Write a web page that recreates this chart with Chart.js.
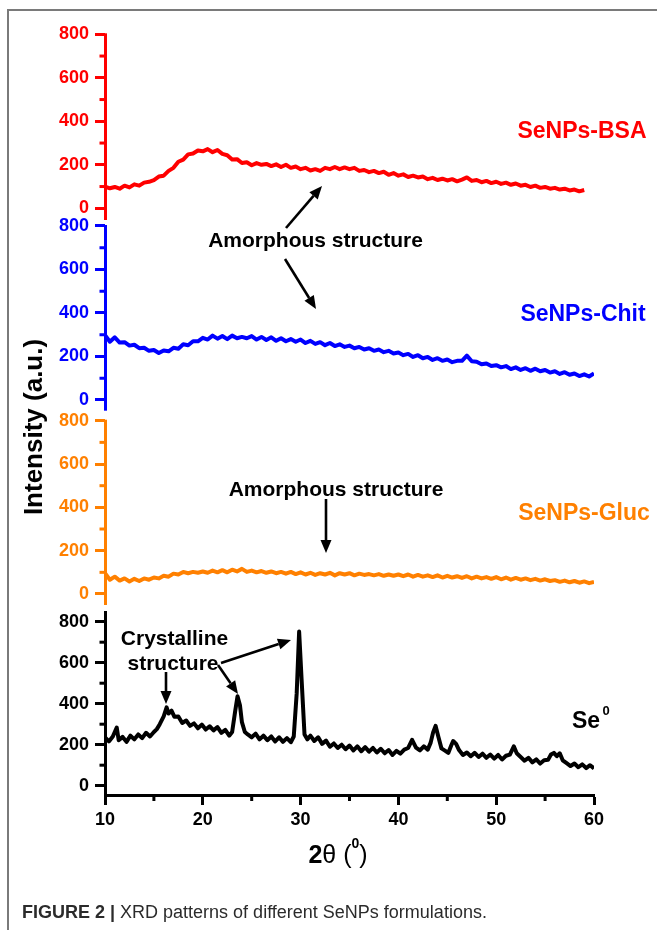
<!DOCTYPE html>
<html><head><meta charset="utf-8">
<script src="https://cdn.jsdelivr.net/npm/chart.js@4.4.1/dist/chart.umd.min.js"></script>
<style>
html,body{margin:0;padding:0;background:#fff;}
body{width:657px;height:930px;overflow:hidden;position:relative;font-family:"Liberation Sans",Arial,sans-serif;}
#frame{position:absolute;left:7px;top:9px;width:720px;height:960px;border-top:2px solid #7a7a7a;border-left:2px solid #7a7a7a;}
#c{position:absolute;left:0;top:0;}
#caption{position:absolute;left:22px;top:902px;font-size:18px;line-height:20px;color:#2b2b2b;white-space:nowrap;}
</style></head>
<body>
<div id="frame"></div>
<canvas id="c" width="657" height="930"></canvas>
<div id="caption"><b>FIGURE 2 |</b> XRD patterns of different SeNPs formulations.</div>
<script>
// ---------- data ----------
const thetaGrid = [10,10.5,11,11.5,12,12.5,13,13.5,14,14.5,15,15.5,16,16.5,17,17.5,18,18.5,19,19.5,20,20.5,21,21.5,22,22.5,23,23.5,24,24.5,25,25.5,26,26.5,27,27.5,28,28.5,29,29.5,30,30.5,31,31.5,32,32.5,33,33.5,34,34.5,35,35.5,36,36.5,37,37.5,38,38.5,39,39.5,40,40.5,41,41.5,42,42.5,43,43.5,44,44.5,45,45.5,46,46.5,47,47.5,48,48.5,49,49.5,50,50.5,51,51.5,52,52.5,53,53.5,54,54.5,55,55.5,56,56.5,57,57.5,58,58.5,59,59.5,60];

const bsaIntensity = [100,92,98,90,104,96,110,104,118,122,
  130,146,150,172,186,214,224,248,252,266,
  262,272,258,268,250,244,224,226,208,212,
  198,208,200,204,194,202,190,200,186,192,
  180,186,174,180,172,186,180,190,180,188,
  180,186,172,176,166,172,162,168,154,162,
  150,156,144,150,142,146,134,140,130,136,
  128,134,124,132,142,126,130,120,126,116,
  122,112,118,108,114,104,108,98,104,94,
  98,90,94,86,90,82,86,78,84];

const chitIntensity = [298,268,288,264,266,250,254,238,240,226,
  230,216,228,224,240,236,256,252,270,270,
  286,278,296,282,294,280,296,284,290,284,
  294,278,290,276,288,272,284,270,280,268,
  278,262,272,258,266,252,262,248,256,244,
  250,238,244,232,238,226,232,220,226,214,
  218,206,212,198,206,192,198,184,192,180,
  186,174,180,180,204,178,176,164,168,156,
  160,150,156,142,150,138,146,134,144,132,
  138,126,132,120,128,116,122,110,118,108,122];

const glucIntensity = [96,66,80,62,72,58,70,60,72,66,
  76,72,84,80,94,90,102,96,102,98,
  104,98,108,100,110,100,112,104,116,102,
  108,100,106,98,104,96,102,94,102,92,
  100,90,98,88,96,90,98,86,96,90,
  96,86,94,88,92,86,92,84,90,84,
  90,82,90,80,88,80,86,78,86,76,
  84,76,82,74,82,72,80,72,78,70,
  78,68,76,66,74,66,72,64,70,62,
  68,60,64,56,62,54,60,52,58,50,56];

const se0Theta = [10,10.4,10.8,11.2,11.4,11.8,12.2,12.6,13,13.4,
  13.8,14.2,14.6,15,15.3,15.6,16,16.3,16.5,16.8,
  17.1,17.5,17.9,18.3,18.7,19.1,19.5,19.9,20.3,20.7,
  21.1,21.5,21.9,22.3,22.7,23,23.3,23.55,23.8,24,
  24.3,24.6,25,25.4,25.8,26.2,26.6,27,27.4,27.8,
  28.2,28.6,29,29.3,29.6,29.85,30.1,30.4,30.7,31,
  31.4,31.8,32.2,32.6,33,33.4,33.8,34.2,34.6,35,
  35.4,35.8,36.2,36.6,37,37.4,37.8,38.2,38.6,39,
  39.4,39.8,40.2,40.6,41,41.4,41.8,42.2,42.6,43,
  43.3,43.55,43.8,44.1,44.4,44.8,45.1,45.4,45.6,45.9,
  46.2,46.6,47,47.4,47.8,48.2,48.6,49,49.4,49.8,
  50.2,50.6,51,51.4,51.8,52.1,52.5,52.9,53.3,53.7,
  54.1,54.5,54.9,55.3,55.6,55.9,56.2,56.5,56.8,57.2,
  57.6,58,58.4,58.8,59.2,59.6,60];
const se0Intensity = [236,216,240,284,222,238,214,244,226,250,
  232,258,240,262,276,300,338,382,352,366,
  336,338,306,318,292,304,280,298,274,290,
  270,286,258,272,244,262,360,436,392,310,
  262,250,236,254,226,244,222,240,216,236,
  214,232,212,240,450,752,520,250,226,244,
  218,236,204,220,190,206,184,200,178,196,
  172,192,168,188,166,184,162,180,158,174,
  150,170,156,176,184,224,186,172,192,176,
  210,260,292,236,182,170,160,196,218,204,
  174,150,162,144,160,140,156,136,152,132,
  150,128,146,152,192,158,140,122,136,114,
  128,108,124,126,152,160,144,158,124,110,
  96,108,90,104,86,100,84];

const seriesNames = ['SeNPs-BSA','SeNPs-Chit','SeNPs-Gluc','Se0'];
const yMajorTicks = [0,200,400,600,800];
const yMinorTicks = [100,300,500,700];
const xMajorTicks = [10,20,30,40,50,60];
const xMinorTicks = [15,25,35,45,55];

// ---------- styling ----------
const FONT = '"Liberation Sans", Arial, sans-serif';
Chart.defaults.font.family = FONT;
const COLORS = {yRed:'#ff0000', yBlue:'#0000ff', yOrange:'#ff8000', yBlack:'#000000'};
const GAPS = {yRed:6, yBlue:10, yOrange:7, yBlack:0};

function pts(xs, ys){ return ys.map((v,i)=>({x:xs[i], y:v})); }

function yAxis(id, min, max, weightOrder, stackWeight){
  return {
    type:'linear', position:'left', stack:'panels', stackWeight:stackWeight, weight:weightOrder,
    min:min, max:max,
    afterBuildTicks: s => { s.ticks = yMajorTicks.map(v=>({value:v})); },
    afterFit: s => { s.width = 50; },
    border:{display:false},
    grid:{drawOnChartArea:false, drawTicks:true, tickLength:10, tickWidth:3, tickColor:COLORS[id]},
    ticks:{autoSkip:false, padding:6, color:COLORS[id], font:{size:18, weight:'bold'}}
  };
}

function arrow(ctx,x1,y1,x2,y2){
  const a=Math.atan2(y2-y1,x2-x1), L=13, W=5.5;
  const bx=x2-L*Math.cos(a), by=y2-L*Math.sin(a);
  ctx.beginPath(); ctx.moveTo(x1,y1); ctx.lineTo(bx,by);
  ctx.lineWidth=2.6; ctx.strokeStyle='#000'; ctx.stroke();
  ctx.beginPath(); ctx.moveTo(x2,y2);
  ctx.lineTo(bx+W*Math.sin(a), by-W*Math.cos(a));
  ctx.lineTo(bx-W*Math.sin(a), by+W*Math.cos(a));
  ctx.closePath(); ctx.fillStyle='#000'; ctx.fill();
}
function label(ctx,s,cx,cy,size,color,weight){
  ctx.font=(weight||'bold')+' '+size+'px '+FONT;
  ctx.fillStyle=color; ctx.textAlign='center'; ctx.textBaseline='alphabetic';
  ctx.fillText(s,cx,cy+0.358*size);
}

const decor = {
  id:'decor',
  beforeDatasetsDraw(chart){
    const ctx=chart.ctx;
    ctx.save();
    ['yRed','yBlue','yOrange','yBlack'].forEach(id=>{
      const s=chart.scales[id];
      const x=Math.round(s.right)+0.5;
      ctx.strokeStyle=COLORS[id]; ctx.lineWidth=3; ctx.lineCap='butt';
      ctx.beginPath(); ctx.moveTo(x,s.top-1); ctx.lineTo(x,s.bottom-GAPS[id]); ctx.stroke();
      yMinorTicks.forEach(v=>{
        const p=s.getPixelForValue(v);
        ctx.beginPath(); ctx.moveTo(x-6,p); ctx.lineTo(x,p); ctx.stroke();
      });
    });
    const xs=chart.scales.x;
    ctx.strokeStyle='#000'; ctx.lineWidth=3;
    xMinorTicks.forEach(v=>{
      const p=xs.getPixelForValue(v);
      ctx.beginPath(); ctx.moveTo(p,xs.top); ctx.lineTo(p,xs.top+6); ctx.stroke();
    });
    ctx.restore();
  },
  afterDraw(chart){
    const ctx=chart.ctx;
    ctx.save();
    // series labels
    label(ctx,'SeNPs-BSA',582,130,23,COLORS.yRed);
    label(ctx,'SeNPs-Chit',583,313,23,COLORS.yBlue);
    label(ctx,'SeNPs-Gluc',584,511.5,23,COLORS.yOrange);
    ctx.font='bold 23px '+FONT; ctx.fillStyle='#000'; ctx.textAlign='left'; ctx.textBaseline='alphabetic';
    ctx.fillText('Se',572,728.3);
    ctx.font='bold 13px '+FONT; ctx.fillText('0',602.5,715);
    // annotations
    label(ctx,'Amorphous structure',315.5,239,21,'#000');
    label(ctx,'Amorphous structure',336,488,21,'#000');
    label(ctx,'Crystalline',174.5,637,21,'#000');
    label(ctx,'structure',173,662,21,'#000');
    arrow(ctx,286,228,322,186);
    arrow(ctx,285,259,316,309);
    arrow(ctx,326,499,326,553);
    arrow(ctx,166,672,166,704);
    arrow(ctx,218,665,238,694);
    arrow(ctx,221,663,291,640);
    // y title
    ctx.save();
    ctx.translate(41.5,427); ctx.rotate(-Math.PI/2);
    ctx.font='bold 26px '+FONT; ctx.fillStyle='#000'; ctx.textAlign='center'; ctx.textBaseline='alphabetic';
    ctx.fillText('Intensity (a.u.)',0,0);
    ctx.restore();
    // x title: 2θ (⁰)
    const parts=[['2','bold 25px '+FONT,0],['θ','25px '+FONT,0],[' (','25px '+FONT,0],['0','bold 14px '+FONT,-15],[')','25px '+FONT,0]];
    let total=0; parts.forEach(p=>{ctx.font=p[1]; p.w=ctx.measureText(p[0]).width; total+=p.w;});
    let x=338-total/2; ctx.textAlign='left'; ctx.fillStyle='#000';
    parts.forEach(p=>{ctx.font=p[1]; ctx.fillText(p[0],x,863+p[2]); x+=p.w;});
    ctx.restore();
  }
};

new Chart(document.getElementById('c'), {
  type:'line',
  data:{
    datasets:[
      {label:seriesNames[0], data:pts(thetaGrid,bsaIntensity), yAxisID:'yRed', borderColor:COLORS.yRed},
      {label:seriesNames[1], data:pts(thetaGrid,chitIntensity), yAxisID:'yBlue', borderColor:COLORS.yBlue},
      {label:seriesNames[2], data:pts(thetaGrid,glucIntensity), yAxisID:'yOrange', borderColor:COLORS.yOrange},
      {label:seriesNames[3], data:pts(se0Theta,se0Intensity), yAxisID:'yBlack', borderColor:COLORS.yBlack}
    ].map(d=>Object.assign(d,{borderWidth:4, pointRadius:0, tension:0, fill:false, borderJoinStyle:'round'}))
  },
  options:{
    responsive:false, animation:false, devicePixelRatio:1, events:[],
    layout:{padding:{left:55, right:63, top:34.3, bottom:85}},
    plugins:{legend:{display:false}, tooltip:{enabled:false}},
    scales:{
      x:{type:'linear', position:'bottom', min:10, max:60,
        afterBuildTicks: s => { s.ticks = xMajorTicks.map(v=>({value:v})); },
        afterFit: s => { s.height = 50; },
        border:{display:true, color:'#000', width:3},
        grid:{drawOnChartArea:false, drawTicks:true, tickLength:10, tickWidth:3, tickColor:'#000'},
        ticks:{autoSkip:false, maxRotation:0, padding:4, color:'#000', font:{size:18, weight:'bold'}}
      },
      yBlack: yAxis('yBlack', -45.4, 847.3, 1, 183),
      yOrange: yAxis('yOrange', -83.1, 800, 2, 191.3),
      yBlue: yAxis('yBlue', -95.2, 800, 3, 194.7),
      yRed: yAxis('yRed', -81.4, 800, 4, 191.7)
    }
  },
  plugins:[decor]
});
</script>
</body></html>
